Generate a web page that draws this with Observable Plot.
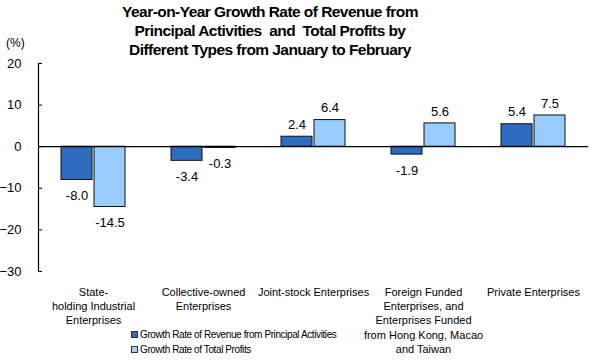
<!DOCTYPE html>
<html>
<head>
<meta charset="utf-8">
<script src="https://cdn.jsdelivr.net/npm/d3@7"></script>
<script src="https://cdn.jsdelivr.net/npm/@observablehq/plot@0.6"></script>
<style>
  body { margin: 0; background: #fff; font-family: Arial, "Liberation Sans", sans-serif; }
  #wrap { position: relative; width: 595px; height: 361px; }
  #title { position: absolute; left: 70px; top: 2px; width: 400px; text-align: center; font-weight: bold; font-size: 15.5px; line-height: 19px; color: #000; letter-spacing: -0.55px; white-space: nowrap; }
  #unit { position: absolute; left: 6px; top: 36px; font-size: 12px; }
  .leg { position: absolute; left: 131px; font-size: 10px; letter-spacing: -0.4px; display: flex; align-items: center; white-space: nowrap; }
  .leg span.sw { display: inline-block; width: 5px; height: 5px; border: 1px solid #333; margin-right: 2px; }
</style>
</head>
<body>
<div id="wrap">
  <div id="chart"></div>
  <div id="title">Year-on-Year Growth Rate of Revenue from<br>Principal Activities&nbsp; and&nbsp; Total Profits by<br>Different Types from January to February</div>
  <div id="unit">(%)</div>
  <div class="leg" style="top:329px"><span class="sw" style="background:#3F66A8"></span>Growth Rate of Revenue from Principal Activities</div>
  <div class="leg" style="top:344px"><span class="sw" style="background:#AECBF0"></span>Growth Rate of Total Profits</div>
</div>
<script>
const categories = [
  "State-\nholding Industrial\nEnterprises",
  "Collective-owned\nEnterprises",
  "Joint-stock Enterprises",
  "Foreign Funded\nEnterprises, and\nEnterprises Funded\nfrom Hong Kong, Macao\nand Taiwan",
  "Private Enterprises"
];
const seriesNames = ["Growth Rate of Revenue from Principal Activities", "Growth Rate of Total Profits"];
const revenue = [-8.0, -3.4, 2.4, -1.9, 5.4];
const profits = [-14.5, -0.3, 6.4, 5.6, 7.5];
const yTicks = [20, 10, 0, -10, -20, -30];
const colors = ["#2E6CC0", "#99CCFF"];

const data = [];
categories.forEach((c, i) => {
  data.push({cat: c, series: seriesNames[0], value: revenue[i]});
  data.push({cat: c, series: seriesNames[1], value: profits[i]});
});

const chart = Plot.plot({
  width: 595,
  height: 361,
  marginLeft: 37,
  marginRight: 6,
  marginTop: 63,
  marginBottom: 90,
  style: {fontFamily: "Arial, 'Liberation Sans', sans-serif", fontSize: "12px", color: "#000", background: "#fff"},
  fx: {domain: categories, padding: 0, label: null},
  x: {domain: seriesNames, axis: null, paddingInner: 0.06, paddingOuter: 0.68},
  y: {domain: [-30, 20], label: null},
  color: {domain: seriesNames, range: colors},
  marks: [
    Plot.barY(data, {fx: "cat", x: "series", y: "value", fill: "series", stroke: "#111", strokeWidth: 1}),
    Plot.ruleY([0], {stroke: "#000", strokeWidth: 1.2}),
    Plot.frame({anchor: "left", facetAnchor: "left", stroke: "#000", strokeWidth: 1.2}),
    Plot.axisY({ticks: yTicks, tickSize: 4, dx: 4, tickFormat: () => "", stroke: "#000"}),
    Plot.axisY({ticks: yTicks, tickSize: 0, tickPadding: 17, fontSize: 13}),
    Plot.axisFx({anchor: "bottom", tickSize: 0, tickPadding: 14, fontSize: 11, lineHeight: 1.3, textAnchor: "middle", letterSpacing: "-0.55px"}),
    Plot.text(data.filter(d => d.value >= 0), {fx: "cat", x: "series", y: "value", text: d => d.value.toFixed(1), dy: -12, fontSize: 13}),
    Plot.text(data.filter(d => d.value < 0), {fx: "cat", x: "series", y: "value", text: d => d.value.toFixed(1), dy: 16, fontSize: 13})
  ]
});
document.getElementById("chart").appendChild(chart);
</script>
</body>
</html>
